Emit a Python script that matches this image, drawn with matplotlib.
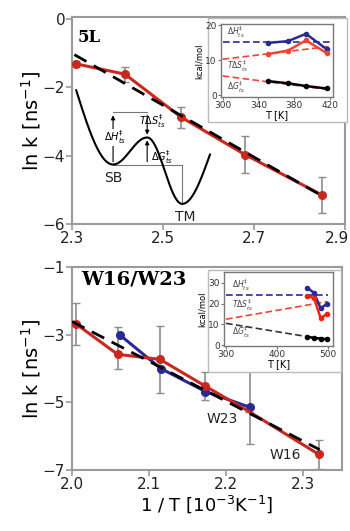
import numpy as np
import matplotlib.pyplot as plt
import matplotlib.transforms as mtransforms
from matplotlib.patches import Rectangle

# 5L panel: ln k vs 1/T
x_5l = [2.309, 2.416, 2.540, 2.680, 2.849]
y_5l = [-1.32, -1.62, -2.88, -3.97, -5.15]
err_5l = [0.08, 0.22, 0.30, 0.55, 0.53]
fit_5l_x = [2.305, 2.855]
fit_5l_y = [-1.05, -5.22]

# 5L inset (kcal/mol vs T)
T_5l = [351, 373, 393, 416]
dH_5l = [15.0, 15.5, 17.6, 13.2]
TdS_5l = [11.8, 12.8, 15.7, 12.1]
dG_5l = [4.0, 3.4, 2.6, 1.9]
fit_T_5l = [300, 420]
fit_dH_5l = [15.3, 15.3]
fit_TdS_5l = [10.3, 14.0]
fit_dG_5l = [5.5, 1.5]

# W16/W23 panel
x_w16 = [2.005, 2.059, 2.114, 2.172, 2.230, 2.320]
y_w16 = [-2.68, -3.58, -3.73, -4.51, -5.28, -6.54]
err_w16_lo = [0.61, 0.42, 0.98, 0.42, 0.0, 0.42]
err_w16_hi = [0.61, 0.82, 0.98, 0.42, 0.0, 0.42]
x_w23 = [2.062, 2.115, 2.173, 2.231]
y_w23 = [-3.01, -4.00, -4.68, -5.15]
err_w23 = [0.0, 0.0, 0.0, 1.08]
fit_w_x = [2.0, 2.321]
fit_w_y = [-2.61, -6.40]

# W16/W23 inset
T_w = [460, 473, 486, 498]
dH_w = [27.6, 25.1, 17.8, 19.8]
TdS_w = [23.5, 22.7, 13.0, 14.9]
dG_w = [4.0, 3.5, 3.2, 2.9]
fit_T_w = [300, 500]
fit_dH_w = [24.0, 24.0]
fit_TdS_w = [12.5, 21.0]
fit_dG_w = [10.5, 2.5]

# energy landscape sketch (schematic, in 5L data coords)
sketch_x = [2.309, 2.390, 2.465, 2.542, 2.603]
sketch_y = [-2.09, -4.26, -3.47, -5.41, -3.97]
dh_top = -2.74

RED = '#c8281e'
BLUE = '#2a2a96'
GREY = '#8c8c8c'
SPINE = '#9a9a9a'

fig = plt.figure(figsize=(3.5, 5.31), dpi=100)


def style_main(ax):
    for s in ax.spines.values():
        s.set_color(SPINE)
        s.set_linewidth(1.5)
    ax.tick_params(direction='out', length=4, width=1.2, color=SPINE,
                   labelsize=11, labelcolor='#222222', pad=1)


def style_inset(ax):
    ax.set_zorder(3)
    for s in ax.spines.values():
        s.set_color('#777777')
        s.set_linewidth(1.0)
    ax.tick_params(direction='out', length=2, width=0.8, color='#777777',
                   labelsize=6.5, labelcolor='#333333', pad=1)


def smooth_sketch(xs, ys, n=40):
    px, py = [], []
    for i in range(len(xs) - 1):
        t = np.linspace(0, 1, n)
        if i == 0:
            s = np.sin(np.pi / 2 * t)
        elif i == len(xs) - 2:
            s = 1 - np.cos(np.pi / 2 * t)
        else:
            s = (1 - np.cos(np.pi * t)) / 2
        px.append(xs[i] + (xs[i + 1] - xs[i]) * t)
        py.append(ys[i] + (ys[i + 1] - ys[i]) * s)
    return np.concatenate(px), np.concatenate(py)


# ---------- top panel ----------
ax1 = fig.add_axes([0.206, 0.578, 0.780, 0.390])
style_main(ax1)
ax1.errorbar(x_5l, y_5l, yerr=err_5l, fmt='none', ecolor=GREY,
             elinewidth=1.2, capsize=3, zorder=2)
ax1.plot(x_5l, y_5l, '-o', color=RED, lw=2.2, ms=5.5, zorder=3)
ax1.plot(fit_5l_x, fit_5l_y, '--', color='black', lw=2, dashes=(5, 3), zorder=4)
ax1.set_xlim(2.3, 2.9)
ax1.set_ylim(-6, 0.05)
ax1.set_xticks([2.3, 2.5, 2.7, 2.9])
ax1.set_xticklabels(['2.3', '2.5', '2.7', '2.9'])
# last tick label sits a little inward, as in the original crop
last = ax1.get_xticklabels()[-1]
last.set_transform(last.get_transform() +
                   mtransforms.ScaledTranslation(-6 / 72, 0, fig.dpi_scale_trans))
ax1.set_yticks([0, -2, -4, -6])
ax1.set_ylabel('ln k [ns$^{-1}$]', fontsize=14, labelpad=0)
ax1.text(0.02, 0.94, '5L', transform=ax1.transAxes, fontsize=12,
         fontweight='bold', family='DejaVu Serif', va='top')

# sketch of the free energy profile
cx, cy = smooth_sketch(sketch_x, sketch_y)
ax1.plot(cx, cy, color='black', lw=1.5, zorder=3)
lc = '#777777'
ax1.plot([sketch_x[1], sketch_x[3]], [sketch_y[1], sketch_y[1]], color=lc, lw=0.8)
ax1.plot([sketch_x[3], sketch_x[3]], [sketch_y[1], sketch_y[3]], color=lc, lw=0.8)
ax1.plot([sketch_x[1], sketch_x[2]], [dh_top, dh_top], color=lc, lw=0.8)
ax1.annotate('', xy=(sketch_x[1], dh_top), xytext=(sketch_x[1], sketch_y[1]),
             arrowprops=dict(arrowstyle='-|>', color='black', lw=0.8,
                             mutation_scale=6))
ax1.annotate('', xy=(sketch_x[2], sketch_y[2]), xytext=(sketch_x[2], dh_top),
             arrowprops=dict(arrowstyle='-|>', color='black', lw=0.8,
                             mutation_scale=6))
ax1.annotate('', xy=(sketch_x[2], sketch_y[2]), xytext=(sketch_x[2], sketch_y[1]),
             arrowprops=dict(arrowstyle='-|>', color='black', lw=0.8,
                             mutation_scale=6))
ax1.text(sketch_x[1] + 0.005, -3.47, r'$\Delta H^{\ddag}_{ts}$', fontsize=7,
         ha='center', va='center',
         bbox=dict(fc='white', ec='none', pad=0.3))
ax1.text(sketch_x[2] + 0.012, -3.0, r'$T\Delta S^{\ddag}_{ts}$', fontsize=7,
         ha='center', va='center')
ax1.text(sketch_x[2] + 0.008, -4.05, r'$\Delta G^{\ddag}_{ts}$', fontsize=7,
         ha='left', va='center')
ax1.text(2.39, -4.65, 'SB', fontsize=10, ha='center', va='center', color='#222222')
ax1.text(2.548, -5.78, 'TM', fontsize=10, ha='center', va='center', color='#222222')

# top inset
box1 = Rectangle((0.595, 0.770), 0.395, 0.196, transform=fig.transFigure,
                 fc='white', ec='#bbbbbb', lw=1.0, zorder=2)
fig.patches.append(box1)
in1 = fig.add_axes([0.631, 0.817, 0.320, 0.137])
style_inset(in1)
in1.plot(fit_T_5l, fit_dH_5l, '--', color=BLUE, lw=1.2, dashes=(4, 2))
in1.plot(fit_T_5l, fit_TdS_5l, '--', color='#ee4433', lw=1.2, dashes=(4, 2))
in1.plot(fit_T_5l, fit_dG_5l, '--', color='#ee4433', lw=1.2, dashes=(4, 2))
in1.plot(T_5l, dH_5l, '-o', color=BLUE, lw=1.8, ms=3)
in1.plot(T_5l, TdS_5l, '-o', color='#ee4433', lw=1.8, ms=3)
in1.plot(T_5l, dG_5l, '-o', color='black', lw=1.8, ms=3)
in1.set_xlim(298, 423)
in1.set_ylim(-0.6, 20.3)
in1.set_xticks([300, 340, 380, 420])
in1.set_yticks([0, 10, 20])
in1.set_xlabel('T [K]', fontsize=7, labelpad=0)
in1.set_ylabel('kcal/mol', fontsize=6, labelpad=1)
in1.text(305, 18, r'$\Delta H^{\ddag}_{ts}$', fontsize=5.5, va='center', color='#444444')
in1.text(305, 8.2, r'$T\Delta S^{\ddag}_{ts}$', fontsize=5.5, va='center', color='#444444')
in1.text(305, 2.2, r'$\Delta G^{\ddag}_{ts}$', fontsize=5.5, va='center', color='#444444')

# ---------- bottom panel ----------
ax2 = fig.add_axes([0.206, 0.115, 0.771, 0.382])
style_main(ax2)
ax2.errorbar(x_w16, y_w16, yerr=[err_w16_lo, err_w16_hi], fmt='none', ecolor=GREY,
             elinewidth=1.2, capsize=3, zorder=2)
ax2.errorbar(x_w23, y_w23, yerr=err_w23, fmt='none', ecolor=GREY,
             elinewidth=1.2, capsize=3, zorder=2)
ax2.plot(x_w23, y_w23, '-o', color=BLUE, lw=2.2, ms=5.5, zorder=3)
ax2.plot(x_w16, y_w16, '-o', color=RED, lw=2.2, ms=5.5, zorder=3,
         markevery=[0, 1, 2, 3, 5])
ax2.plot(fit_w_x, fit_w_y, '--', color='black', lw=2, dashes=(5, 3), zorder=4)
ax2.set_xlim(2.0, 2.35)
ax2.set_ylim(-7, -1)
ax2.set_xticks([2.0, 2.1, 2.2, 2.3])
ax2.set_xticklabels(['2.0', '2.1', '2.2', '2.3'])
ax2.set_yticks([-1, -3, -5, -7])
ax2.set_ylabel('ln k [ns$^{-1}$]', fontsize=14, labelpad=0)
ax2.set_xlabel('1 / T [10$^{-3}$K$^{-1}$]', fontsize=13, labelpad=1)
ax2.text(0.035, 0.985, 'W16/W23', transform=ax2.transAxes, fontsize=14,
         fontweight='bold', family='DejaVu Serif', va='top')
ax2.text(2.195, -5.5, 'W23', fontsize=10, ha='center', va='center', color='#222222')
ax2.text(2.276, -6.55, 'W16', fontsize=10, ha='center', va='center', color='#222222')

# bottom inset
box2 = Rectangle((0.595, 0.300), 0.380, 0.192, transform=fig.transFigure,
                 fc='white', ec='#bbbbbb', lw=1.0, zorder=2)
fig.patches.append(box2)
in2 = fig.add_axes([0.640, 0.348, 0.311, 0.139])
style_inset(in2)
in2.plot(fit_T_w, fit_dH_w, '--', color=BLUE, lw=1.2, dashes=(4, 2))
in2.plot(fit_T_w, fit_TdS_w, '--', color='#ee4433', lw=1.2, dashes=(4, 2))
in2.plot(fit_T_w, fit_dG_w, '--', color='#333333', lw=1.2, dashes=(4, 2))
in2.plot(T_w, dH_w, '-o', color=BLUE, lw=1.8, ms=3)
in2.plot(T_w, TdS_w, '-o', color='#ee2211', lw=1.8, ms=3)
in2.plot(T_w, dG_w, '-o', color='black', lw=1.8, ms=3)
in2.set_xlim(296, 510)
in2.set_ylim(-0.5, 35)
in2.set_xticks([300, 400, 500])
in2.set_yticks([0, 10, 20, 30])
in2.set_xlabel('T [K]', fontsize=7, labelpad=0)
in2.set_ylabel('kcal/mol', fontsize=6, labelpad=1)
in2.text(312, 29, r'$\Delta H^{\ddag}_{ts}$', fontsize=5.5, va='center', color='#444444')
in2.text(312, 19.4, r'$T\Delta S^{\ddag}_{ts}$', fontsize=5.5, va='center', color='#444444')
in2.text(312, 6.3, r'$\Delta G^{\ddag}_{ts}$', fontsize=5.5, va='center', color='#444444')

fig.savefig('out.png', dpi=100)
